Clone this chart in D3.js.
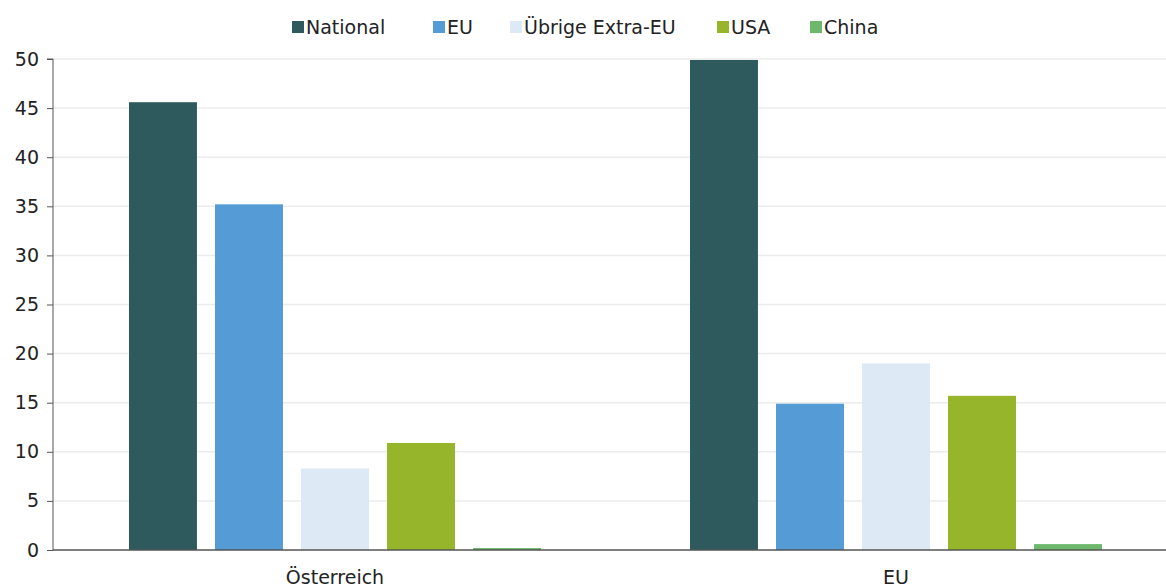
<!DOCTYPE html>
<html lang="de">
<head>
<meta charset="UTF-8">
<title>Bar chart</title>
<script src="https://d3js.org/d3.v7.min.js"></script>
<style>
  body { margin: 0; background: #fff; }
  svg text { font-family: "DejaVu Sans", sans-serif; fill: #222; }
</style>
</head>
<body>
<svg id="chart" width="1166" height="587"></svg>
<script>
// data
var categories = ["Österreich", "EU"];
var seriesNames = ["National", "EU", "Übrige Extra-EU", "USA", "China"];
var seriesColors = ["#2e5a5d", "#559bd6", "#ddeaf5", "#97b52b", "#6db86d"];
var valuesOesterreich = [45.6, 35.2, 8.3, 10.9, 0.2];
var valuesEU = [49.9, 14.9, 19.0, 15.7, 0.6];
var yTicks = [0, 5, 10, 15, 20, 25, 30, 35, 40, 45, 50];

var rows = [valuesOesterreich, valuesEU];

var svg = d3.select("#chart"),
    margin = { top: 59, left: 53, bottom: 37 },
    height = +svg.attr("height");

var x0 = d3.scaleBand()
    .domain(categories)
    .range([54.5, 1176.5])
    .paddingInner(0)
    .paddingOuter(0);

var x1 = d3.scaleBand()
    .domain(seriesNames)
    .range([0, x0.bandwidth() * 0.7344])
    .paddingInner(0.21)
    .paddingOuter(0);

var y = d3.scaleLinear()
    .domain([0, 50])
    .range([height - margin.bottom, margin.top]);

// grid lines
svg.append("g")
    .selectAll("line")
    .data(yTicks.filter(function(t) { return t > 0; }))
    .join("line")
    .attr("x1", margin.left)
    .attr("x2", 1166)
    .attr("y1", function(d) { return y(d); })
    .attr("y2", function(d) { return y(d); })
    .attr("stroke", "#ececec")
    .attr("stroke-width", 1.5);

// bars
var groupOffset = (x0.bandwidth() - x1.range()[1]) / 2;
var groups = svg.append("g")
    .selectAll("g")
    .data(categories)
    .join("g")
    .attr("transform", function(d) { return "translate(" + (x0(d) + groupOffset) + ",0)"; });

groups.selectAll("rect")
    .data(function(d, i) {
        return rows[i].map(function(v, j) { return { name: seriesNames[j], value: v, color: seriesColors[j] }; });
    })
    .join("rect")
    .attr("x", function(d) { return x1(d.name); })
    .attr("width", x1.bandwidth())
    .attr("y", function(d) { return y(d.value); })
    .attr("height", function(d) { return y(0) - y(d.value); })
    .attr("fill", function(d) { return d.color; });

// y axis
var yAxis = svg.append("g")
    .attr("transform", "translate(" + margin.left + ",0)")
    .call(d3.axisLeft(y).tickValues(yTicks).tickSize(6).tickPadding(8));
yAxis.select(".domain").attr("stroke", "#555").attr("d", "M-6," + y(50) + "H0V" + y(0));
yAxis.selectAll(".tick line").attr("stroke", "#555");
yAxis.selectAll("text").attr("font-size", 19).attr("font-family", "DejaVu Sans").attr("fill", "#222");

// x axis
var xAxis = svg.append("g")
    .attr("transform", "translate(0," + y(0) + ")")
    .call(d3.axisBottom(x0).tickSize(0).tickPadding(10));
xAxis.select(".domain").attr("stroke", "#555").attr("stroke-width", 1.5)
    .attr("d", "M" + margin.left + ",0H1166");
xAxis.selectAll("text").attr("font-size", 19).attr("font-family", "DejaVu Sans").attr("fill", "#222")
    .attr("dy", "1.25em");

// legend
var legendX = [292, 433, 510, 717, 810];
var legend = svg.append("g")
    .selectAll("g")
    .data(seriesNames)
    .join("g")
    .attr("transform", function(d, i) { return "translate(" + legendX[i] + ",27)"; });
legend.append("rect")
    .attr("x", 0).attr("y", -6)
    .attr("width", 12).attr("height", 12)
    .attr("fill", function(d, i) { return seriesColors[i]; });
legend.append("text")
    .attr("x", 14)
    .attr("dy", "0.35em")
    .attr("font-size", 19)
    .text(function(d) { return d; });
</script>
</body>
</html>
